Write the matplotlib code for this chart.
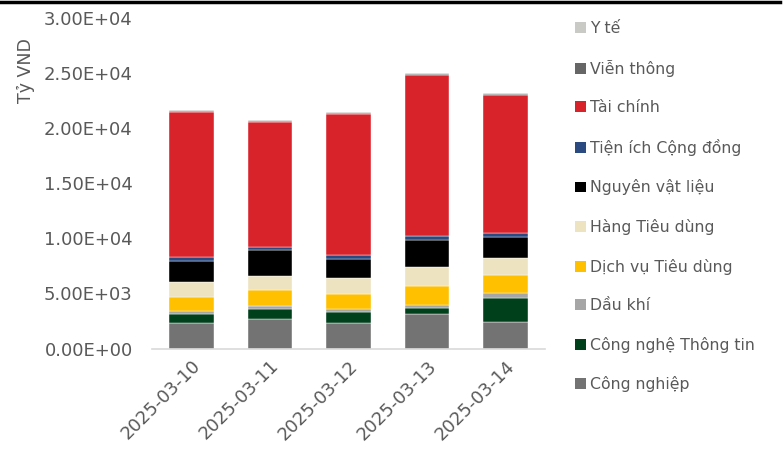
import numpy as np
import matplotlib.pyplot as plt
from matplotlib.patches import Patch

# =============================================================================
# Giá trị giao dịch theo ngành (tỷ VND), xếp chồng theo ngày
# =============================================================================
dates = ['2025-03-10', '2025-03-11', '2025-03-12', '2025-03-13', '2025-03-14']

sectors = ['Công nghiệp', 'Công nghệ Thông tin', 'Dầu khí', 'Dịch vụ Tiêu dùng',
           'Hàng Tiêu dùng', 'Nguyên vật liệu', 'Tiện ích Cộng đồng',
           'Tài chính', 'Viễn thông', 'Y tế']

cong_nghiep = [2310, 2680, 2310, 3130, 2400]
cong_nghe_tt = [820, 870, 1000, 545, 2210]
dau_khi = [270, 300, 270, 270, 450]
dich_vu_td = [1270, 1450, 1330, 1720, 1630]
hang_td = [1360, 1270, 1480, 1700, 1510]
nguyen_vl = [1940, 2360, 1730, 2510, 1940]
tien_ich = [360, 300, 330, 360, 330]
tai_chinh = [13160, 11340, 12860, 14610, 12550]
vien_thong = [110, 110, 110, 110, 110]
y_te = [70, 70, 70, 70, 70]

series = [cong_nghiep, cong_nghe_tt, dau_khi, dich_vu_td, hang_td,
          nguyen_vl, tien_ich, tai_chinh, vien_thong, y_te]
colors = ['#737373', '#00401A', '#A6A6A6', '#FFC000', '#EDE3C0',
          '#000000', '#2A4A80', '#D9232A', '#666666', '#C9C9C5']

txt = '#595959'
plt.rcParams['font.family'] = ['DejaVu Sans']

fig = plt.figure(figsize=(7.84, 4.49), dpi=100)
ax = fig.add_axes([0.194, 0.2238, 0.501, 0.736])

x = np.arange(len(dates))
bottom = np.zeros(len(dates))
for vals, col in zip(series, colors):
    ax.bar(x, vals, width=0.57, bottom=bottom, color=col,
           edgecolor='white', linewidth=0.3)
    bottom += np.array(vals)

ax.set_xlim(-0.5, len(dates) - 0.5)
ax.set_ylim(0, 30000)
ax.set_yticks(np.arange(0, 30001, 5000))
ax.set_yticklabels(['{:.2E}'.format(v) for v in np.arange(0, 30001, 5000)],
                   fontsize=13)
ax.set_xticks(x)
ax.set_xticklabels(dates, rotation=45, ha='right', rotation_mode='anchor',
                   fontsize=13)

for s in ['top', 'right', 'left']:
    ax.spines[s].set_visible(False)
ax.spines['bottom'].set_color('#D9D9D9')
ax.spines['bottom'].set_linewidth(1.2)
ax.tick_params(length=0, colors=txt)
ax.tick_params(axis='y', pad=14)
ax.tick_params(axis='x', pad=6)

fig.text(0.033, 0.842, 'Tỷ VND', rotation=90, color=txt,
         fontsize=12.5, ha='center', va='center')

handles = [Patch(facecolor=c, label=l) for l, c in zip(sectors, colors)][::-1]
leg = fig.legend(handles=handles, loc='upper left',
                 bbox_to_anchor=(0.724, 0.97), frameon=False,
                 fontsize=11.3, labelspacing=1.5, handlelength=0.7,
                 handleheight=0.7, handletextpad=0.2, borderpad=0)
for t in leg.get_texts():
    t.set_color(txt)

# đường kẻ đen trên cùng
fig.add_artist(plt.Line2D([0, 0.995], [0.995, 0.995], color='black',
                          linewidth=2.5, transform=fig.transFigure))

plt.savefig('out.png', dpi=100)
plt.close()
